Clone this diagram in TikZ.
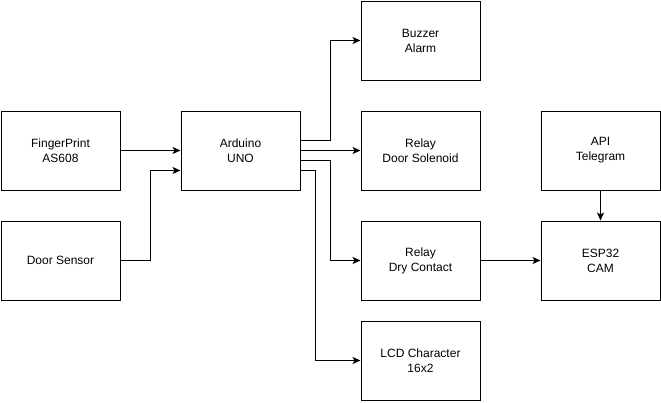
\documentclass[tikz,border=0pt]{standalone}
\usepackage{fontspec}
\setmainfont{Liberation Sans}
\usetikzlibrary{positioning, arrows.meta}

\begin{document}
\begin{tikzpicture}[x=1pt, y=-1pt, node distance=60pt]
	\tikzstyle{block}=[draw, line width=1pt, minimum width=119pt, minimum height=79pt, align=center, inner sep=0pt, font=\fontsize{12}{15}\selectfont]
	\tikzstyle{link}=[draw, line width=1pt, -{Stealth[length=8pt, width=7pt, inset=2pt]}]
	\useasboundingbox (0,0) rectangle (661,402);

	\node[block] (fp) at (60.5,150.5) {FingerPrint\\AS608};
	\node[block, below=30pt of fp] (door) {Door Sensor};
	\node[block, right=of fp] (uno) {Arduino\\UNO};
	\node[block, right=of uno] (solenoid) {Relay\\Door Solenoid};
	\node[block, above=30pt of solenoid] (buzzer) {Buzzer\\Alarm};
	\node[block, below=30pt of solenoid] (drycontact) {Relay\\Dry Contact};
	\node[block, below=20pt of drycontact] (lcd) {LCD Character\\16x2};
	\node[block, right=of solenoid] (api) {API\\Telegram};
	\node[block, below=30pt of api] (esp) {ESP32\\CAM};

	% inputs
	\draw[link] (fp) -- (uno);
	\draw[link] (door.east) -- ++(30,0) |- ([yshift=-20pt]uno.west);
	% outputs
	\draw[link] ([yshift=10pt]uno.east) -- ++(30,0) |- (buzzer.west);
	\draw[link] (uno) -- (solenoid);
	\draw[link] ([yshift=-10pt]uno.east) -- ++(30,0) |- (drycontact.west);
	\draw[link] ([yshift=-20pt]uno.east) -- ++(15,0) |- (lcd.west);
	% camera
	\draw[link] (drycontact) -- (esp);
	\draw[link] (api) -- (esp);
\end{tikzpicture}
\end{document}
